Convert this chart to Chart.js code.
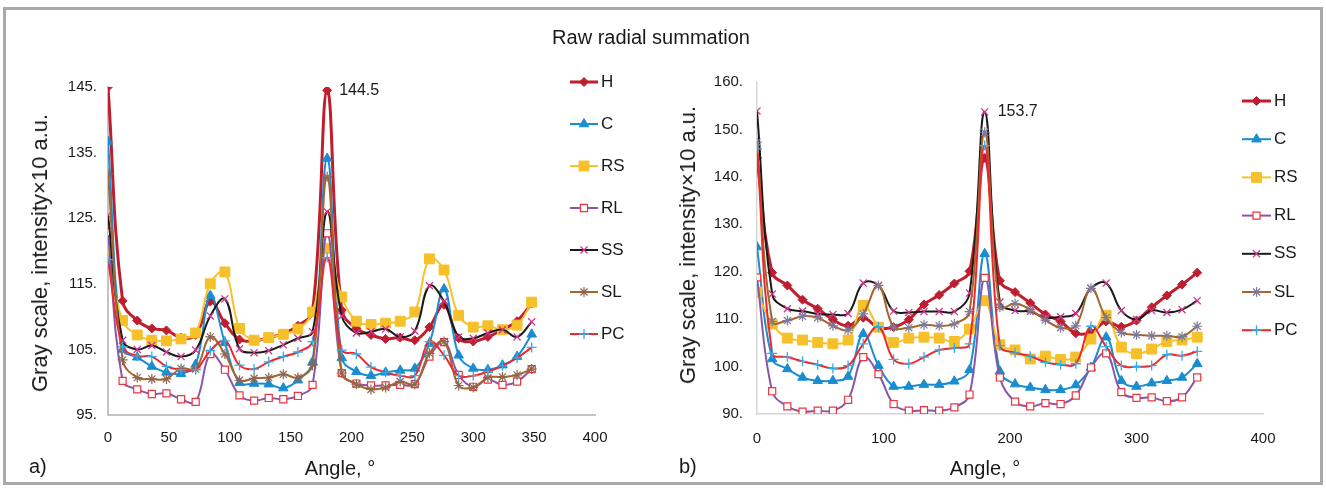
<!DOCTYPE html>
<html>
<head>
<meta charset="utf-8">
<script src="https://cdn.jsdelivr.net/npm/chart.js@4.4.1/dist/chart.umd.min.js"></script>
<style>
  html, body { margin: 0; padding: 0; background: #fff; }
  body { width: 1326px; height: 488px; position: relative; overflow: hidden;
         font-family: "Liberation Sans", Arial, sans-serif; color: #1a1a1a; }
  .frame { position: absolute; left: 3px; top: 7px; width: 1320px; height: 478px;
           border: 3px solid #a7a9ac; box-sizing: border-box; }
  canvas { position: absolute; top: 0; }
  #chartA { left: 0; }
  #chartB { left: 663px; }
  .txt { position: absolute; white-space: nowrap; line-height: 1; }
  .title { left: 651px; top: 37px; font-size: 20px; transform: translate(-50%, -50%); }
  .ytitle { font-size: 22px; transform: translate(-50%, -50%) rotate(-90deg); }
  .xtitle { font-size: 20px; transform: translate(-50%, -50%); }
  .tag { font-size: 20px; transform: translateY(-50%); }
</style>
</head>
<body>
<div class="frame"></div>
<canvas id="chartA" width="663" height="488"></canvas>
<canvas id="chartB" width="663" height="488"></canvas>
<div class="txt title">Raw radial summation</div>
<div class="txt ytitle" style="left:40px; top:253px;">Gray scale, intensity×10 a.u.</div>
<div class="txt ytitle" style="left:688px; top:245px;">Gray scale, intensity×10 a.u.</div>
<div class="txt xtitle" style="left:340px; top:468px;">Angle, °</div>
<div class="txt xtitle" style="left:985px; top:468px;">Angle, °</div>
<div class="txt tag" style="left:29px; top:466px;">a)</div>
<div class="txt tag" style="left:679px; top:466px;">b)</div>
<script>
// angle of each radial sum, degrees
const angles = [0, 12, 24, 36, 48, 60, 72, 84, 96, 108, 120, 132, 144, 156, 168,
                180, 192, 204, 216, 228, 240, 252, 264, 276, 288, 300, 312, 324, 336, 348];
const seriesNames = ["H", "C", "RS", "RL", "SS", "SL", "PC"];

// panel a)
const aH  = [145.0, 112.4, 109.4, 108.2, 107.9, 106.8, 107.2, 112.3, 109.0, 106.5, 106.3, 106.8, 107.4, 108.6, 110.8,
             144.5, 111.0, 108.2, 107.2, 106.6, 106.8, 106.4, 108.4, 111.8, 106.7, 106.2, 106.9, 108.0, 109.3, 112.0];
const aC  = [136.7, 105.0, 103.8, 102.4, 101.5, 101.3, 102.7, 113.2, 106.0, 99.9, 99.8, 99.7, 99.1, 100.3, 103.1,
             134.1, 103.7, 101.6, 101.0, 101.5, 101.8, 102.1, 105.9, 114.2, 104.1, 102.1, 101.9, 102.6, 103.9, 107.3];
const aRS = [119.4, 109.4, 107.2, 106.4, 106.3, 106.6, 107.5, 115.0, 116.8, 108.2, 106.4, 106.8, 107.3, 108.1, 110.7,
             120.4, 113.0, 109.3, 108.8, 109.0, 109.3, 110.7, 118.8, 117.1, 110.2, 108.4, 108.6, 108.0, 108.7, 112.2];
const aRL = [122.9, 100.2, 98.9, 98.2, 98.3, 97.4, 97.0, 104.3, 101.9, 98.0, 97.2, 97.6, 97.4, 97.9, 99.6,
             122.7, 101.4, 99.8, 99.5, 99.5, 99.6, 99.7, 103.9, 106.1, 101.1, 99.3, 100.4, 99.6, 100.1, 102.0];
const aSS = [125.5, 106.4, 105.0, 105.6, 104.6, 103.9, 104.9, 110.1, 112.7, 105.1, 104.5, 104.8, 105.7, 106.7, 107.7,
             126.0, 110.1, 107.5, 107.7, 108.1, 106.9, 107.8, 114.7, 112.3, 106.9, 106.7, 107.5, 108.0, 106.9, 109.2];
const aSL = [131.8, 103.4, 100.7, 100.5, 100.5, 102.1, 102.0, 106.9, 104.3, 100.3, 100.6, 100.7, 101.2, 100.7, 102.6,
             131.3, 101.4, 99.7, 98.9, 99.2, 100.1, 99.7, 104.4, 106.2, 99.5, 99.2, 100.7, 100.8, 101.1, 102.0];
const aPC = [118.7, 105.4, 104.0, 103.9, 102.4, 101.9, 101.9, 104.8, 106.3, 102.6, 102.0, 103.1, 103.9, 104.6, 106.2,
             119.0, 104.9, 104.3, 102.3, 101.5, 101.0, 101.0, 106.2, 104.1, 101.0, 101.0, 101.6, 102.5, 103.7, 105.3];

// panel b)
const bH  = [144.0, 119.8, 117.1, 114.1, 112.2, 109.9, 108.6, 110.3, 108.2, 108.3, 109.9, 113.1, 115.1, 117.5, 120.1,
             144.0, 118.1, 115.7, 113.4, 111.0, 109.5, 107.0, 107.2, 109.5, 108.4, 109.7, 112.5, 115.0, 117.3, 119.8];
const bC  = [125.2, 101.6, 99.5, 97.7, 97.0, 97.0, 97.9, 106.9, 100.2, 95.8, 95.8, 96.2, 96.2, 96.9, 99.3,
             123.8, 99.0, 96.3, 95.6, 95.1, 95.1, 96.1, 99.8, 106.2, 97.0, 95.8, 96.5, 97.0, 97.7, 100.6];
const bRS = [115.7, 109.0, 106.0, 105.6, 105.1, 104.8, 105.6, 112.9, 108.3, 105.1, 106.0, 106.2, 106.0, 105.3, 107.9,
             113.9, 104.6, 103.5, 101.6, 102.2, 101.5, 102.0, 105.8, 110.8, 104.1, 102.7, 103.7, 105.3, 105.6, 106.2];
const bRL = [118.8, 94.8, 91.6, 90.5, 90.7, 90.7, 93.0, 102.0, 98.4, 92.1, 90.7, 90.8, 90.7, 91.4, 94.1,
             118.7, 97.7, 92.6, 91.6, 92.3, 92.1, 93.9, 99.8, 102.8, 94.6, 93.4, 93.5, 92.7, 93.5, 97.7];
const bSS = [153.9, 115.3, 112.2, 111.7, 111.1, 111.0, 111.2, 117.6, 117.1, 111.7, 111.4, 111.6, 111.6, 111.6, 115.5,
             153.7, 113.6, 111.8, 111.6, 110.3, 110.5, 111.2, 116.5, 117.6, 111.8, 109.9, 111.8, 111.4, 112.0, 113.9];
const bSL = [147.3, 109.5, 109.7, 110.6, 110.3, 108.6, 107.7, 111.1, 117.1, 108.3, 108.2, 108.8, 108.6, 109.0, 111.6,
             149.4, 112.5, 113.3, 112.0, 109.8, 108.2, 108.6, 116.5, 110.3, 107.2, 106.7, 106.5, 106.5, 106.3, 108.5];
const bPC = [145.9, 102.8, 102.0, 101.1, 100.4, 99.6, 100.2, 104.8, 108.4, 101.5, 100.6, 102.0, 103.5, 103.9, 104.8,
             146.6, 104.4, 102.9, 102.2, 100.9, 100.4, 100.6, 108.5, 104.2, 100.2, 100.0, 100.2, 102.5, 102.3, 103.2];

// axis ticks
const aYTicks = [95, 105, 115, 125, 135, 145];
const bYTicks = [90, 100, 110, 120, 130, 140, 150, 160];
const aXTicks = [0, 50, 100, 150, 200, 250, 300, 350, 400];
const bXTicks = [0, 100, 200, 300, 400];

const FONT = '"Liberation Sans", Arial, sans-serif';

// line + marker look of each series
const looks = {
  H:  { line: "#be1e2d", width: 3, style: "rectRot",  r: 4.5, fill: "#be1e2d", edge: "#be1e2d", ew: 1 },
  C:  { line: "#1a8dd0", width: 2, style: "triangle", r: 5.5, fill: "#1a8dd0", edge: "#1a8dd0", ew: 1 },
  RS: { line: "#f7c22b", width: 2, style: "rect",     r: 7,   fill: "#f6c02a", edge: "#f6c02a", ew: 1 },
  RL: { line: "#8a57a6", width: 2, style: "rect",     r: 5,   fill: "#ffffff", edge: "#ec3540", ew: 1.2 },
  SS: { line: "#1a1a1a", width: 2, style: "crossRot", r: 5,   fill: "#d4358a", edge: "#d4358a", ew: 1.3 },
  SL: { line: "#a3662c", width: 2, style: "star",     r: 5,   fill: "#8f6550", edge: "#8f6550", ew: 1.2 },
  PC: { line: "#ea2a30", width: 2, style: "cross",    r: 5,   fill: "#35ade6", edge: "#35ade6", ew: 1.3 }
};

function buildSets(valueLists, slMarker) {
  return seriesNames.map((name, k) => {
    const lk = looks[name];
    const edge = name === "SL" ? slMarker : lk.edge;
    return {
      label: name,
      data: angles.map((a, i) => ({ x: a, y: valueLists[k][i] })),
      borderColor: lk.line,
      borderWidth: lk.width,
      tension: 0.4,
      pointStyle: lk.style,
      pointRadius: lk.r,
      pointBackgroundColor: name === "SL" ? slMarker : lk.fill,
      pointBorderColor: edge,
      pointBorderWidth: lk.ew,
      order: seriesNames.length - k
    };
  });
}

// legend drawn as line + marker + name, like the spreadsheet legend
const sideLegend = {
  id: "sideLegend",
  afterDraw(chart, args, opts) {
    const ctx = chart.ctx;
    ctx.save();
    chart.data.datasets.forEach((ds, i) => {
      const y = opts.top + i * opts.gap;
      ctx.strokeStyle = ds.borderColor;
      ctx.lineWidth = ds.borderWidth;
      ctx.beginPath();
      ctx.moveTo(opts.left, y);
      ctx.lineTo(opts.left + opts.len, y);
      ctx.stroke();
      ctx.fillStyle = ds.pointBackgroundColor;
      ctx.strokeStyle = ds.pointBorderColor;
      ctx.lineWidth = ds.pointBorderWidth;
      Chart.helpers.drawPoint(ctx, {
        pointStyle: ds.pointStyle, radius: ds.pointRadius, rotation: 0, borderWidth: ds.pointBorderWidth
      }, opts.left + opts.len / 2, y);
      ctx.fillStyle = "#1a1a1a";
      ctx.font = opts.size + "px " + FONT;
      ctx.textBaseline = "middle";
      ctx.textAlign = "left";
      ctx.fillText(ds.label, opts.left + opts.len + 3, y);
    });
    ctx.restore();
  }
};

// value written next to the highest peak
const peakLabel = {
  id: "peakLabel",
  afterDatasetsDraw(chart, args, opts) {
    const ctx = chart.ctx;
    const x = chart.scales.x.getPixelForValue(opts.x) + opts.dx;
    const y = chart.scales.y.getPixelForValue(opts.y);
    ctx.save();
    ctx.fillStyle = "#1a1a1a";
    ctx.font = "16px " + FONT;
    ctx.textBaseline = "middle";
    ctx.fillText(String(opts.y), x, y);
    ctx.restore();
  }
};

function makeChart(id, sets, cfg) {
  return new Chart(document.getElementById(id), {
    type: "line",
    data: { datasets: sets },
    plugins: [sideLegend, peakLabel],
    options: {
      responsive: false,
      animation: false,
      layout: { padding: { left: 0, top: cfg.top, right: cfg.right, bottom: cfg.bottom } },
      plugins: {
        legend: { display: false },
        tooltip: { enabled: false },
        sideLegend: cfg.legend,
        peakLabel: cfg.peak
      },
      scales: {
        x: {
          type: "linear", min: 0, max: 400,
          afterBuildTicks: s => { s.ticks = cfg.xTicks.map(v => ({ value: v })); },
          ticks: { padding: cfg.xPad, color: "#1a1a1a", font: { family: FONT, size: 15 }, maxRotation: 0 },
          grid: { display: false, drawTicks: false },
          border: { color: cfg.axisColor, width: cfg.axisWidth },
          afterFit: s => { s.height = 30; }
        },
        y: {
          type: "linear", min: cfg.yTicks[0], max: cfg.yTicks[cfg.yTicks.length - 1],
          afterBuildTicks: s => { s.ticks = cfg.yTicks.map(v => ({ value: v })); },
          ticks: { padding: cfg.yPad, color: "#1a1a1a", font: { family: FONT, size: 15 }, callback: v => v + "." },
          grid: { display: false, drawTicks: false },
          border: { color: cfg.axisColor, width: cfg.axisWidth },
          afterFit: s => { s.width = cfg.yWidth; }
        }
      }
    }
  });
}

makeChart("chartA", buildSets([aH, aC, aRS, aRL, aSS, aSL, aPC], "#8f6550"), {
  top: 87, right: 68, bottom: 43, yWidth: 108, yPad: 11, xPad: 14,
  xTicks: aXTicks, yTicks: aYTicks, axisColor: "#c4c4c4", axisWidth: 2,
  legend: { left: 570, top: 82, gap: 42, len: 28, size: 17 },
  peak: { x: 180, y: 144.5, dx: 12 }
});

makeChart("chartB", buildSets([bH, bC, bRS, bRL, bSS, bSL, bPC], "#7d7a9e"), {
  top: 82, right: 63, bottom: 44, yWidth: 94, yPad: 14, xPad: 16,
  xTicks: bXTicks, yTicks: bYTicks, axisColor: "#d6d6d6", axisWidth: 1.5,
  legend: { left: 579, top: 101, gap: 38.2, len: 29, size: 17 },
  peak: { x: 180, y: 153.7, dx: 13 }
});
</script>
</body>
</html>
